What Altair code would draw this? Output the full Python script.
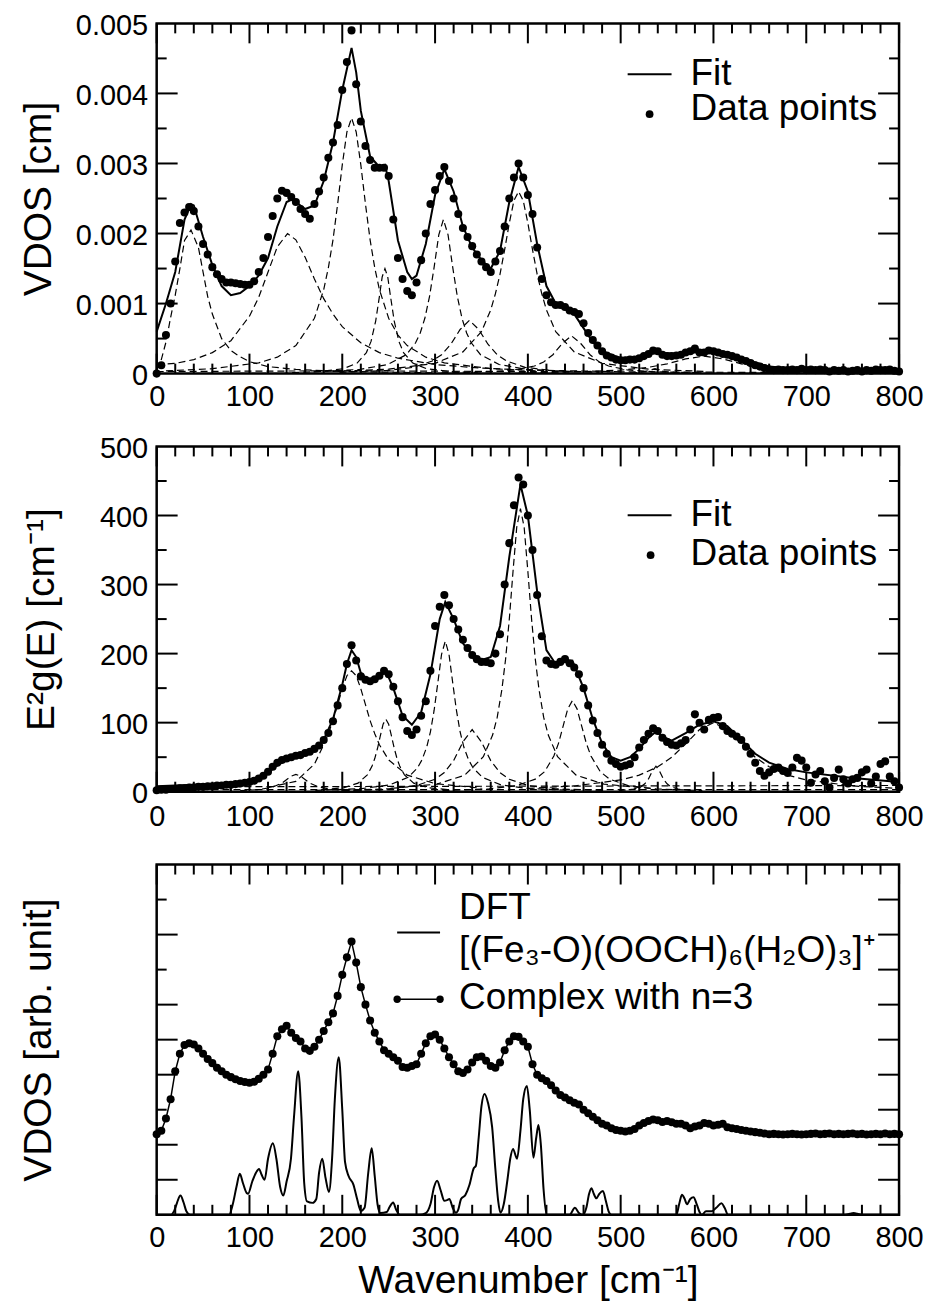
import altair as alt
import pandas as pd

FONT = "Liberation Sans"
W = 744
H1, H2, H3 = 351, 346, 351

# ---------------- tick positions ----------------
X_MAJOR = [0, 100, 200, 300, 400, 500, 600, 700, 800]
X_MINOR = [v for v in range(0, 801, 20) if v % 100]
P1_YMAJ = [0.001, 0.002, 0.003, 0.004]
P1_YMIN = [0.0005, 0.0015, 0.0025, 0.0035, 0.0045]
P1_YLABELS = [0, 0.001, 0.002, 0.003, 0.004, 0.005]
P2_YMAJ = [100, 200, 300, 400]
P2_YMIN = [50, 150, 250, 350, 450]
P2_YLABELS = [0, 100, 200, 300, 400, 500]
P3_YMAJ_L = [1, 2, 4, 5, 6, 8]
P3_YMIN_L = [3, 7, 9]
P3_YMAJ_R = [1, 2, 3, 4, 5, 6, 7, 8, 9]

# ---------------- panel 1: VDOS [cm] (values in 1e-3 cm) ----------------
P1_X = list(range(0, 801, 5))
P1_DATA = [
    0.0, 0.12, 0.55, 1.0, 1.6, 2.15, 2.3, 2.38, 2.32, 2.1,
    1.85, 1.7, 1.52, 1.42, 1.35, 1.3, 1.3, 1.29, 1.28, 1.27,
    1.27, 1.32, 1.45, 1.65, 1.95, 2.25, 2.5, 2.61, 2.58, 2.52,
    2.45, 2.35, 2.28, 2.21, 2.42, 2.6, 2.8, 3.08, 3.3, 3.55,
    4.05, 4.45, 4.9, 4.13, 3.6, 3.25, 3.05, 2.94, 2.94, 2.94,
    2.82, 2.2, 1.65, 1.35, 1.18, 1.12, 1.3, 1.62, 2.0, 2.42,
    2.62, 2.82, 2.95, 2.75, 2.5, 2.28, 2.08, 1.95, 1.82, 1.7,
    1.6, 1.52, 1.45, 1.6, 1.75, 2.1, 2.5, 2.8, 3.0, 2.8,
    2.55, 2.28, 1.8, 1.35, 1.12, 1.02, 0.98, 0.98, 0.95, 0.9,
    0.88, 0.85, 0.72, 0.58, 0.48, 0.4, 0.32, 0.26, 0.23, 0.2,
    0.19, 0.19, 0.2, 0.2, 0.22, 0.25, 0.28, 0.33, 0.32, 0.27,
    0.25, 0.25, 0.26, 0.27, 0.3, 0.32, 0.36, 0.3, 0.3, 0.33,
    0.32, 0.3, 0.28, 0.27, 0.25, 0.23, 0.2, 0.18, 0.15, 0.12,
    0.1, 0.08, 0.06, 0.05, 0.06, 0.05, 0.05, 0.06, 0.05, 0.07,
    0.05, 0.06, 0.05, 0.06, 0.05, 0.03, 0.05, 0.04, 0.05, 0.03,
    0.04, 0.05, 0.03, 0.05, 0.04, 0.06, 0.05, 0.05, 0.06, 0.04,
    0.03,
]
P1_FIT_X = [0, 10, 20, 30, 37, 40, 50, 60, 70, 80, 90, 100, 110, 120, 130, 140, 145, 150, 160, 170,
            180, 190, 200, 210, 215, 220, 230, 240, 246, 250, 260, 270, 275, 280, 290, 300, 310, 320, 330, 340,
            350, 360, 370, 380, 390, 400, 410, 420, 430, 440, 450, 460, 470, 480, 500, 520, 540, 560, 580, 600,
            620, 640, 660, 700, 800]
P1_FIT = [0.6, 1.0, 1.45, 2.2, 2.42, 2.4, 1.95, 1.55, 1.25, 1.12, 1.15, 1.25, 1.4, 1.65, 2.1, 2.45, 2.48, 2.45, 2.35, 2.4,
          2.75, 3.3, 4.05, 4.65, 4.3, 3.75, 3.1, 2.95, 2.98, 2.75, 1.9, 1.45, 1.35, 1.4, 1.85, 2.55, 2.92, 2.6, 2.1, 1.8,
          1.62, 1.5, 1.75, 2.45, 2.95, 2.6, 1.85, 1.25, 1.0, 0.92, 0.85, 0.65, 0.45, 0.32, 0.22, 0.24, 0.3, 0.28, 0.3, 0.3,
          0.25, 0.18, 0.1, 0.05, 0.02]

P1_C1_X = [0, 5, 10, 15, 20, 25, 30, 37, 45, 50, 55, 60, 70, 80, 90, 100, 120, 150, 200, 300]
P1_C1_Y = [0.05, 0.2, 0.45, 0.8, 1.12, 1.5, 1.9, 2.05, 1.8, 1.45, 1.1, 0.85, 0.5, 0.33, 0.24, 0.17, 0.1, 0.06, 0.03, 0.01]
P1_C2_X = [0, 20, 40, 60, 80, 100, 110, 120, 130, 141, 150, 160, 170, 180, 190, 200, 220, 240, 260, 300, 350, 400, 500]
P1_C2_Y = [0.13, 0.146, 0.2, 0.3, 0.47, 0.82, 1.09, 1.45, 1.81, 2.0, 1.91, 1.66, 1.35, 1.07, 0.85, 0.67, 0.44, 0.3, 0.22, 0.13, 0.078, 0.052, 0.027]
P1_C3_X = [10, 60, 110, 130, 150, 170, 180, 185, 190, 195, 200, 205, 210, 215, 220, 225, 230, 235, 240, 250, 260, 270, 290, 310, 360, 410]
P1_C3_Y = [0.04, 0.07, 0.154, 0.235, 0.4, 0.79, 1.2, 1.51, 1.91, 2.42, 2.98, 3.45, 3.65, 3.45, 2.98, 2.42, 1.91, 1.51, 1.2, 0.79, 0.55, 0.4, 0.235, 0.154, 0.07, 0.04]
P1_C4_X = [146, 176, 201, 216, 226, 231, 236, 240, 243, 246, 249, 252, 256, 261, 266, 276, 291, 316, 346]
P1_C4_Y = [0.015, 0.03, 0.07, 0.15, 0.3, 0.46, 0.75, 1.1, 1.38, 1.5, 1.38, 1.1, 0.75, 0.46, 0.3, 0.15, 0.07, 0.03, 0.015]
P1_C5_X = [169, 219, 249, 269, 279, 284, 289, 294, 299, 304, 309, 314, 319, 324, 329, 334, 339, 349, 369, 399, 449]
P1_C5_Y = [0.025, 0.06, 0.13, 0.27, 0.44, 0.58, 0.79, 1.1, 1.52, 1.98, 2.2, 1.98, 1.52, 1.1, 0.79, 0.58, 0.44, 0.27, 0.13, 0.06, 0.025]
P1_C6_X = [197, 247, 277, 297, 307, 317, 327, 337, 347, 357, 367, 377, 397, 427, 477]
P1_C6_Y = [0.018, 0.043, 0.09, 0.18, 0.27, 0.42, 0.63, 0.76, 0.63, 0.42, 0.27, 0.18, 0.09, 0.043, 0.018]
P1_C7_X = [190, 250, 300, 330, 350, 360, 365, 370, 375, 380, 385, 390, 395, 400, 405, 410, 415, 420, 430, 450, 480, 530, 590]
P1_C7_Y = [0.031, 0.063, 0.147, 0.31, 0.6, 0.91, 1.14, 1.42, 1.77, 2.15, 2.47, 2.6, 2.47, 2.15, 1.77, 1.42, 1.14, 0.91, 0.6, 0.31, 0.147, 0.063, 0.031]
P1_C8_X = [307, 357, 387, 407, 417, 427, 437, 447, 457, 467, 477, 487, 507, 537, 587]
P1_C8_Y = [0.011, 0.025, 0.054, 0.108, 0.166, 0.27, 0.43, 0.54, 0.43, 0.27, 0.166, 0.108, 0.054, 0.025, 0.011]
P1_C9_X = [510, 520, 530, 537, 545, 555, 570]
P1_C9_Y = [0.007, 0.016, 0.04, 0.07, 0.035, 0.014, 0.005]
P1_C10_X = [390, 450, 500, 530, 550, 570, 590, 610, 630, 650, 680, 730, 790]
P1_C10_Y = [0.012, 0.023, 0.05, 0.09, 0.14, 0.21, 0.25, 0.21, 0.14, 0.09, 0.05, 0.023, 0.012]
P1_C11_X = [0, 200, 400, 600, 800]
P1_C11_Y = [0.03, 0.04, 0.03, 0.02, 0.01]

# ---------------- panel 2: E^2 g(E) ----------------
P2_X = list(range(0, 801, 5))
P2_DATA = [
    2, 3, 3, 4, 4, 5, 5, 6, 6, 7,
    7, 8, 8, 9, 9, 10, 10, 11, 12, 13,
    14, 16, 19, 23, 29, 36, 42, 46, 48, 50,
    52, 53, 56, 58, 62, 67, 75, 85, 102, 125,
    150, 185, 212, 190, 167, 162, 160, 163, 168, 175,
    170, 152, 131, 108, 88, 82, 90, 110, 131, 175,
    240, 268, 285, 270, 250, 235, 220, 208, 198, 192,
    188, 188, 186, 200, 228, 300, 360, 415, 455, 445,
    400, 350, 285, 225, 190, 185, 184, 188, 192, 186,
    180, 170, 150, 125, 103, 85, 68, 55, 45, 40,
    36, 38, 40, 50, 64, 75, 84, 92, 88, 78,
    72, 68, 67, 70, 75, 90, 112, 100, 90, 104,
    107, 108, 95, 88, 84, 80, 75, 65, 55, 42,
    30, 23, 28, 33, 35, 30, 27, 35, 49, 45,
    35, 13, 25, 30, 15, 6, 20, 32, 18, 12,
    18, 20, 28, 32, 12, 22, 40, 44, 22, 15,
    6,
]
P2_FIT_X = [0, 20, 40, 60, 80, 100, 110, 120, 130, 140, 150, 160, 170, 180, 190, 200, 205, 210, 215, 220,
            230, 240, 247, 255, 265, 275, 285, 295, 305, 311, 320, 330, 340, 350, 360, 370, 380, 392, 400, 410,
            420, 430, 440, 448, 460, 470, 480, 490, 500, 510, 520, 530, 538, 545, 555, 570, 585, 600, 615, 630,
            645, 660, 680, 700, 750, 800]
P2_FIT = [8, 9, 10, 11, 13, 16, 20, 28, 38, 46, 51, 56, 62, 75, 105, 155, 185, 205, 195, 172,
          158, 165, 175, 150, 110, 97, 115, 170, 250, 275, 250, 215, 198, 190, 195, 240, 340, 445, 400, 290,
          205, 185, 188, 190, 150, 105, 70, 50, 45, 50, 62, 78, 87, 80, 74, 85, 97, 102, 95, 75,
          55, 42, 33, 28, 20, 14]

P2_D1_X = [90, 110, 125, 135, 145, 150, 155, 165, 175, 190, 220, 260]
P2_D1_Y = [1.5, 3.1, 6.6, 12.5, 22.5, 25, 22.5, 12.5, 6.6, 3.1, 1.1, 0.5]
P2_D2_X = [120, 150, 170, 180, 185, 190, 195, 200, 205, 210, 215, 220, 225, 230, 235, 240, 250, 270, 300, 350]
P2_D2_Y = [6, 15, 40, 68, 84, 103, 126, 149, 168, 175, 168, 149, 126, 103, 84, 68, 46, 24, 11.7, 5]
P2_D3_X = [177, 202, 217, 227, 232, 235, 238, 241, 244, 247, 250, 253, 256, 259, 262, 267, 277, 292, 317]
P2_D3_Y = [2.5, 5.9, 12.4, 24.4, 36.7, 48, 62.9, 80.8, 97.8, 105, 97.8, 80.8, 62.9, 48, 36.7, 24.4, 12.4, 5.9, 2.5]
P2_D4_X = [171, 221, 251, 271, 281, 286, 291, 295, 299, 303, 307, 311, 315, 319, 323, 327, 331, 336, 341, 351, 371, 401, 451]
P2_D4_Y = [1.9, 4.5, 9.8, 20.8, 34.4, 46.4, 64.7, 86.7, 118, 158, 199, 218, 199, 158, 118, 86.7, 64.7, 46.4, 34.4, 20.8, 9.8, 4.5, 1.9]
P2_D5_X = [200, 250, 280, 300, 310, 320, 330, 340, 350, 360, 370, 380, 400, 430, 480]
P2_D5_Y = [1.8, 4.2, 9, 18, 27.7, 45, 72, 90, 72, 45, 27.7, 18, 9, 4.2, 1.8]
P2_D6_X = [252, 302, 332, 352, 362, 367, 372, 376, 380, 384, 388, 392, 396, 400, 404, 408, 412, 417, 422, 432, 452, 482, 532]
P2_D6_Y = [4.7, 11, 24, 50.6, 82, 108, 148, 192, 250, 319, 383, 410, 383, 319, 250, 192, 148, 108, 82, 50.6, 24, 11, 4.7]
P2_D7_X = [308, 358, 388, 408, 418, 428, 433, 438, 443, 448, 453, 458, 463, 468, 478, 488, 508, 538, 588]
P2_D7_Y = [1.7, 4, 8.8, 18.2, 29, 51.6, 70, 95, 120, 132, 120, 95, 70, 51.6, 29, 18.2, 8.8, 4, 1.7]
P2_D8_X = [498, 514, 522, 526, 530, 534, 538, 542, 546, 550, 554, 562, 578]
P2_D8_Y = [1.4, 3.7, 7.4, 11.4, 18.5, 29.6, 37, 29.6, 18.5, 11.4, 7.4, 3.7, 1.4]
P2_D9_X = [400, 450, 500, 520, 540, 555, 570, 585, 600, 615, 630, 645, 660, 680, 700, 750, 800]
P2_D9_Y = [4.8, 8.3, 17, 24, 36, 50, 69, 90, 100, 90, 69, 50, 36, 24, 17, 8.3, 4.8]
P2_D10_X = [0, 400, 800]
P2_D10_Y = [7, 8, 9]
P2_D11_X = [0, 800]
P2_D11_Y = [3, 3]

# ---------------- panel 3: VDOS [arb. unit] ----------------
P3_X = list(range(0, 801, 5))
P3_COMPLEX = [
    2.3, 2.4, 2.75, 3.3, 4.1, 4.6, 4.85, 4.9, 4.86, 4.75,
    4.6, 4.45, 4.33, 4.2, 4.1, 4.0, 3.93, 3.87, 3.82, 3.79,
    3.77, 3.8, 3.88, 4.0, 4.15, 4.6, 5.1, 5.3, 5.4, 5.2,
    5.05, 4.95, 4.75, 4.68, 4.8, 5.0, 5.25, 5.5, 5.75, 6.25,
    6.85, 7.35, 7.8, 7.2, 6.5, 6.0, 5.55, 5.2, 4.95, 4.7,
    4.6, 4.5, 4.4, 4.22, 4.2, 4.25, 4.3, 4.6, 4.9, 5.1,
    5.15, 5.0, 4.75, 4.5, 4.3, 4.1, 4.05, 4.15, 4.35, 4.5,
    4.52, 4.4, 4.25, 4.2, 4.35, 4.7, 4.95, 5.1, 5.08, 4.95,
    4.8, 4.3, 4.0, 3.9, 3.82, 3.7, 3.55, 3.42, 3.35, 3.27,
    3.2, 3.15, 3.0, 2.9, 2.8, 2.7, 2.6, 2.55, 2.47, 2.42,
    2.4, 2.38, 2.4, 2.45, 2.55, 2.62, 2.68, 2.72, 2.7, 2.65,
    2.68, 2.64, 2.6, 2.6, 2.55, 2.47, 2.52, 2.55, 2.62, 2.6,
    2.55, 2.57, 2.6, 2.5, 2.47, 2.45, 2.42, 2.4, 2.38, 2.36,
    2.34, 2.32, 2.3, 2.31, 2.3, 2.29, 2.3, 2.31, 2.3, 2.29,
    2.3, 2.31, 2.32, 2.3, 2.31, 2.32, 2.3, 2.31, 2.3, 2.31,
    2.32, 2.3, 2.31, 2.29, 2.3, 2.31, 2.3, 2.32, 2.3, 2.31,
    2.3,
]
DFT_X = [0, 15, 19, 22, 25.6, 29, 32, 36, 78, 82,
         86, 89.6, 93, 97, 98.5, 103, 107, 110.3, 113, 116.3,
         120, 125.2, 129, 133, 136.5, 140, 144.7, 148, 152.5, 156,
         159, 162, 168, 172, 175, 178.4, 182, 185.6, 189, 192,
         196.2, 200, 203, 206.9, 212, 216, 220, 224, 228, 231.7,
         235, 238, 241, 248, 251, 254.8, 258, 262, 283, 290,
         295, 299, 302.2, 306, 310, 313, 315.4, 319, 322.5, 325,
         328, 332.8, 337, 341.7, 344, 347, 350, 353.3, 357, 361.5,
         365, 368, 370.5, 374, 378, 381, 384, 388.3, 392, 395,
         398.9, 402, 406, 409, 411.4, 414, 417, 420.2, 445, 450.7,
         455, 459.6, 463, 466, 468.5, 471, 473.8, 477, 480.9, 484,
         487, 490, 560, 563, 566, 569, 571.4, 575, 578.5, 582,
         585, 587.4, 592, 598, 603, 608.7, 612, 615.8, 740, 747,
         751, 755, 762, 800]
DFT_Y = [0, 0, 0.12, 0.35, 0.55, 0.35, 0.1, 0, 0, 0.3,
         0.8, 1.17, 0.9, 0.62, 0.6, 0.95, 1.2, 1.31, 1.15, 1.0,
         1.6, 2.04, 1.6, 0.8, 0.55, 0.95, 1.6, 2.8, 4.1, 2.8,
         0.9, 0.38, 0.34, 0.45, 1.2, 1.6, 1.05, 0.65, 1.6, 3.3,
         4.5, 3.0, 1.5, 1.1, 0.86, 0.45, 0.11, 0.2, 1.2, 1.9,
         1.1, 0.3, 0.05, 0.08, 0.22, 0.35, 0.15, 0, 0, 0.05,
         0.3, 0.8, 0.97, 0.7, 0.4, 0.42, 0.45, 0.2, 0.06, 0.15,
         0.45, 0.57, 0.85, 1.33, 1.4, 2.2, 3.1, 3.45, 3.2, 2.5,
         1.3, 0.4, 0.06, 0.3, 1.0, 1.6, 1.88, 1.6, 2.4, 3.3,
         3.68, 3.0, 1.63, 2.2, 2.56, 2.0, 0.7, 0, 0, 0.2,
         0.05, 0, 0.2, 0.6, 0.76, 0.6, 0.47, 0.6, 0.68, 0.4,
         0.1, 0, 0, 0.3, 0.57, 0.45, 0.3, 0.45, 0.5, 0.3,
         0.08, 0, 0.1, 0.1, 0.2, 0.33, 0.2, 0, 0, 0.03,
         0.05, 0.03, 0, 0]

# ---------------- helpers ----------------
BLACK = "black"
XS = alt.Scale(domain=[0, 800], nice=False, zero=False)
DOT = 65
LABEL_SIZE = 29
TITLE_SIZE = 39
LEGEND_SIZE = 37


def x_axis(pad, title=""):
    kw = dict(values=X_MAJOR, format="d", labelFont=FONT, labelFontSize=LABEL_SIZE, labelColor=BLACK,
              labelPadding=pad, labelFlush=False, labelOverlap=False, ticks=False, tickSize=0,
              domain=False, grid=False, title=title)
    if title:
        kw.update(titleFont=FONT, titleFontSize=TITLE_SIZE, titleFontWeight="normal", titleColor=BLACK,
                  titleX=W / 2, titleY=78, titleAlign="center", titleBaseline="alphabetic")
    return alt.Axis(**kw)


def y_axis(title, h, values=None, fmt=None, title_x=-118):
    kw = dict(labelFont=FONT, labelFontSize=LABEL_SIZE, labelColor=BLACK, labelPadding=9, labelOffset=2,
              labelFlush=False, labelOverlap=False, ticks=False, tickSize=0, domain=False, grid=False,
              title=title, titleFont=FONT, titleFontSize=TITLE_SIZE, titleFontWeight="normal", titleColor=BLACK,
              titleAngle=270, titleX=title_x, titleY=h / 2, titleAlign="center", titleBaseline="middle")
    if values is None:
        kw.update(labels=False, values=[])
    else:
        kw.update(values=values, format=fmt)
    return alt.Axis(**kw)


def long_df(pairs):
    rows = []
    for i, (xs, ys) in enumerate(pairs):
        for a, b in zip(xs, ys, strict=True):
            rows.append({"x": a, "y": b, "comp": f"c{i}"})
    return pd.DataFrame(rows)


def build_panel(h, yscale, xax, yax, layers_fn, ymaj_l, ymin_l, ymaj_r, ymin_r, legend):
    X = lambda f: alt.X(f, type="quantitative", scale=XS, axis=xax)
    Y = lambda f: alt.Y(f, type="quantitative", scale=yscale, axis=yax)
    layers = layers_fn(X, Y)

    def xt(vals, ln):
        df = pd.DataFrame({"tx": vals})
        return [
            alt.Chart(df).mark_rule(color=BLACK, strokeWidth=2).encode(x=X("tx"), y=alt.value(0), y2=alt.value(ln)),
            alt.Chart(df).mark_rule(color=BLACK, strokeWidth=2).encode(x=X("tx"), y=alt.value(h), y2=alt.value(h - ln)),
        ]

    def yt(vals, ln, right=False):
        if not vals:
            return []
        df = pd.DataFrame({"ty": vals})
        x0 = W if right else 0
        x1 = W - ln if right else ln
        return [alt.Chart(df).mark_rule(color=BLACK, strokeWidth=2).encode(y=Y("ty"), x=alt.value(x0), x2=alt.value(x1))]

    layers += xt(X_MAJOR, 20) + xt(X_MINOR, 10)
    layers += yt(ymaj_l, 21) + yt(ymin_l, 10)
    layers += yt(ymaj_r, 21, True) + yt(ymin_r, 10, True)
    layers += legend
    return alt.layer(*layers).properties(width=W, height=h)


def ltext(s, x, y, size=LEGEND_SIZE):
    return alt.Chart(pd.DataFrame({"t": [s]})).mark_text(
        align="left", baseline="alphabetic", font=FONT, fontSize=size, color=BLACK
    ).encode(x=alt.value(x), y=alt.value(y), text="t:N")


def lline(x0, x1, y, w=2):
    return alt.Chart(pd.DataFrame({"k": [0]})).mark_rule(color=BLACK, strokeWidth=w).encode(
        x=alt.value(x0), x2=alt.value(x1), y=alt.value(y))


def ldot(x, y, size=60):
    return alt.Chart(pd.DataFrame({"k": [0]})).mark_circle(color=BLACK, opacity=1, size=size).encode(
        x=alt.value(x), y=alt.value(y))


# ---------------- panel 1 ----------------
p1_pts = pd.DataFrame({"x": P1_X, "y": [v * 1e-3 for v in P1_DATA]})
p1_fit = pd.DataFrame({"x": P1_FIT_X, "y": [v * 1e-3 for v in P1_FIT]})
p1_comp = long_df([(P1_C1_X, P1_C1_Y), (P1_C2_X, P1_C2_Y), (P1_C3_X, P1_C3_Y), (P1_C4_X, P1_C4_Y),
                   (P1_C5_X, P1_C5_Y), (P1_C6_X, P1_C6_Y), (P1_C7_X, P1_C7_Y), (P1_C8_X, P1_C8_Y),
                   (P1_C9_X, P1_C9_Y), (P1_C10_X, P1_C10_Y), (P1_C11_X, P1_C11_Y)])
p1_comp["y"] = p1_comp["y"] * 1e-3


def p1_layers(X, Y):
    return [
        alt.Chart(p1_comp).mark_line(color=BLACK, strokeWidth=1.2, strokeDash=[7, 4]).encode(
            x=X("x"), y=Y("y"), detail="comp:N"),
        alt.Chart(p1_fit).mark_line(color=BLACK, strokeWidth=2).encode(x=X("x"), y=Y("y")),
        alt.Chart(p1_pts).mark_circle(color=BLACK, opacity=1, size=DOT).encode(x=X("x"), y=Y("y")),
    ]


p1 = build_panel(
    H1, alt.Scale(domain=[0, 0.005], nice=False, zero=False),
    x_axis(9), y_axis("VDOS [cm]", H1, P1_YLABELS, ".3~f"),
    p1_layers, P1_YMAJ, P1_YMIN, P1_YMAJ, P1_YMIN,
    [lline(472, 516, 51), ltext("Fit", 535, 62), ldot(494, 91), ltext("Data points", 535, 97)],
)

# ---------------- panel 2 ----------------
p2_pts = pd.DataFrame({"x": P2_X, "y": P2_DATA})
p2_fit = pd.DataFrame({"x": P2_FIT_X, "y": P2_FIT})
p2_comp = long_df([(P2_D1_X, P2_D1_Y), (P2_D2_X, P2_D2_Y), (P2_D3_X, P2_D3_Y), (P2_D4_X, P2_D4_Y),
                   (P2_D5_X, P2_D5_Y), (P2_D6_X, P2_D6_Y), (P2_D7_X, P2_D7_Y), (P2_D8_X, P2_D8_Y),
                   (P2_D9_X, P2_D9_Y), (P2_D10_X, P2_D10_Y), (P2_D11_X, P2_D11_Y)])


def p2_layers(X, Y):
    return [
        alt.Chart(p2_comp).mark_line(color=BLACK, strokeWidth=1.2, strokeDash=[7, 4]).encode(
            x=X("x"), y=Y("y"), detail="comp:N"),
        alt.Chart(p2_fit).mark_line(color=BLACK, strokeWidth=2).encode(x=X("x"), y=Y("y")),
        alt.Chart(p2_pts).mark_circle(color=BLACK, opacity=1, size=DOT).encode(x=X("x"), y=Y("y")),
    ]


p2 = build_panel(
    H2, alt.Scale(domain=[0, 500], nice=False, zero=False),
    x_axis(11), y_axis("E²g(E) [cm⁻¹]", H2, P2_YLABELS, "d", title_x=-115),
    p2_layers, P2_YMAJ, P2_YMIN, P2_YMAJ, P2_YMIN,
    [lline(472, 516, 69), ltext("Fit", 535, 80), ldot(495, 109), ltext("Data points", 535, 119)],
)

# ---------------- panel 3 ----------------
p3_cx = pd.DataFrame({"x": P3_X, "y": P3_COMPLEX})
p3_dft = pd.DataFrame({"x": DFT_X, "y": DFT_Y})


def p3_layers(X, Y):
    return [
        alt.Chart(p3_dft).mark_line(color=BLACK, strokeWidth=2, interpolate="monotone").encode(
            x=X("x"), y=Y("y")),
        alt.Chart(p3_cx).mark_line(color=BLACK, strokeWidth=1.5).encode(x=X("x"), y=Y("y")),
        alt.Chart(p3_cx).mark_circle(color=BLACK, opacity=1, size=DOT).encode(x=X("x"), y=Y("y")),
    ]


p3 = build_panel(
    H3, alt.Scale(domain=[0, 10], nice=False, zero=False),
    x_axis(9, "Wavenumber [cm⁻¹]"), y_axis("VDOS [arb. unit]", H3),
    p3_layers, P3_YMAJ_L, P3_YMIN_L, P3_YMAJ_R, [],
    [
        lline(241, 284, 68), ltext("DFT", 303, 55),
        ltext("[(Fe₃-O)(OOCH)₆(H₂O)₃]⁺", 303, 98),
        lline(241, 284, 135, 1.5), ldot(241, 135, 55), ldot(284, 135, 55),
        ltext("Complex with n=3", 303, 145),
    ],
)

chart = alt.vconcat(p1, p2, p3, spacing=73, bounds="flush").properties(
    padding={"left": 10, "top": 0, "right": 0, "bottom": 0}
).configure_view(stroke=BLACK, strokeWidth=2.5)

chart.save("out.html", embed_options={"renderer": "svg", "actions": False})
